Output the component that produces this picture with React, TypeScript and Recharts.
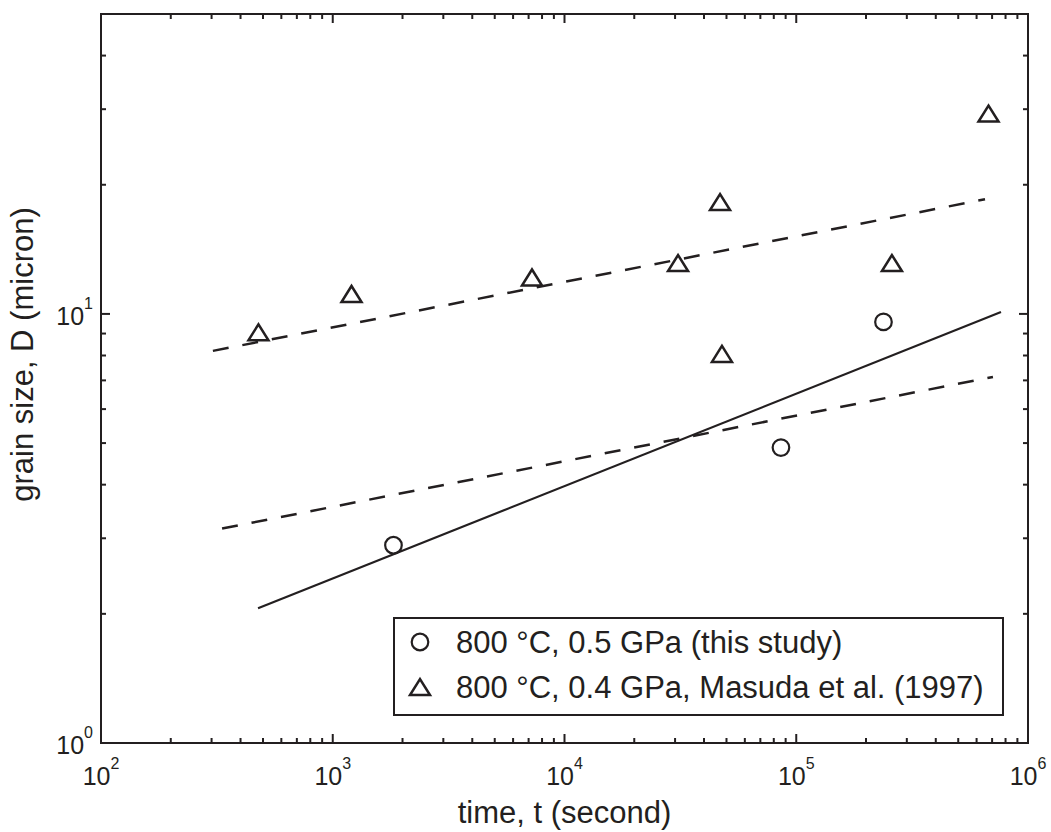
import React from 'react';
import { ComposedChart, XAxis, YAxis, Scatter, Line, Legend } from 'recharts';

const INK = '#231f20';
const FONT = '"Liberation Sans", Arial, Helvetica, sans-serif';

// ---- data ----
const thisStudyT = [1828, 85900, 237900];
const thisStudyD = [2.89, 4.88, 9.58];

const masudaT = [478, 1205, 7240, 30900, 46900, 47800, 258700, 675500];
const masudaD = [9.06, 11.13, 12.16, 13.14, 18.22, 8.07, 13.14, 29.3];

const solidFitT = [476, 764700];
const solidFitD = [2.06, 10.1];
const upperFitT = [304, 652400];
const upperFitD = [8.2, 18.5];
const lowerFitT = [333, 706000];
const lowerFitD = [3.16, 7.13];

const seriesNames = ['800 °C, 0.5 GPa (this study)', '800 °C, 0.4 GPa, Masuda et al. (1997)'];
const xTitle = 'time, t (second)';
const yTitle = 'grain size, D (micron)';

// ---- ticks ----
const xMajorTicks = [1e2, 1e3, 1e4, 1e5, 1e6];
const yMajorTicks = [1, 10];
const minorMultipliers = [2, 3, 4, 5, 6, 7, 8, 9];
const xMinorTicks = [1e2, 1e3, 1e4, 1e5].flatMap((d) => minorMultipliers.map((m) => m * d));
const yMinorTicks = [...minorMultipliers, 20, 30, 40];
const xTicks = [...xMajorTicks, ...xMinorTicks].sort((a, b) => a - b);
const yTicks = [...yMajorTicks, ...yMinorTicks].sort((a, b) => a - b);

const zip = (ts: number[], ds: number[]) => ts.map((t, i) => ({ t, d: ds[i] }));
const thisStudy = zip(thisStudyT, thisStudyD);
const masuda = zip(masudaT, masudaD);
const solidFit = zip(solidFitT, solidFitD);
const upperFit = zip(upperFitT, upperFitD);
const lowerFit = zip(lowerFitT, lowerFitD);

const isMajor = (v: number, majors: number[]) => majors.some((m) => Math.abs(m - v) / m < 1e-9);
const MAJOR_LEN = 9;
const MINOR_LEN = 5;

const PowLabel = ({ x, y, v, anchor }: any) => (
  <text x={x} y={y} textAnchor={anchor} fontFamily={FONT} fontSize={25} fill={INK}>
    10
    <tspan dy={-16} fontSize={16}>
      {Math.round(Math.log10(v))}
    </tspan>
  </text>
);

const BottomTick = (props: any) => {
  const { x, y, payload } = props;
  const v = payload.value;
  const major = isMajor(v, xMajorTicks);
  const len = major ? MAJOR_LEN : MINOR_LEN;
  return (
    <g>
      <line x1={x} x2={x} y1={y} y2={y - len} stroke={INK} strokeWidth={2} />
      {major && <PowLabel x={x} y={y + 42} v={v} anchor="middle" />}
    </g>
  );
};

const TopTick = (props: any) => {
  const { x, y, payload } = props;
  const len = isMajor(payload.value, xMajorTicks) ? MAJOR_LEN : MINOR_LEN;
  return <line x1={x} x2={x} y1={y} y2={y + len} stroke={INK} strokeWidth={2} />;
};

const LeftTick = (props: any) => {
  const { x, y, payload } = props;
  const v = payload.value;
  const major = isMajor(v, yMajorTicks);
  const len = major ? MAJOR_LEN : MINOR_LEN;
  return (
    <g>
      <line x1={x} x2={x + len} y1={y} y2={y} stroke={INK} strokeWidth={2} />
      {major && <PowLabel x={x - 8} y={y + 11} v={v} anchor="end" />}
    </g>
  );
};

const RightTick = (props: any) => {
  const { x, y, payload } = props;
  const len = isMajor(payload.value, yMajorTicks) ? MAJOR_LEN : MINOR_LEN;
  return <line x1={x} x2={x - len} y1={y} y2={y} stroke={INK} strokeWidth={2} />;
};

const XTitle = (props: any) => {
  const vb = props.viewBox || {};
  return (
    <text x={vb.x + vb.width / 2} y={vb.y + 80} textAnchor="middle" fontFamily={FONT} fontSize={31} fill={INK}>
      {xTitle}
    </text>
  );
};

const YTitle = (props: any) => {
  const vb = props.viewBox || {};
  const cx = 33;
  const cy = vb.y + vb.height / 2 - 24;
  return (
    <text x={cx} y={cy} transform={`rotate(-90, ${cx}, ${cy})`} textAnchor="middle" fontFamily={FONT} fontSize={31} fill={INK}>
      {yTitle}
    </text>
  );
};

const TriangleMark = ({ cx, cy }: any) => (
  <polygon
    points={`${cx - 10},${cy + 8} ${cx + 10},${cy + 8} ${cx},${cy - 8}`}
    fill="none"
    stroke={INK}
    strokeWidth={2.5}
    strokeLinejoin="miter"
  />
);

const CircleMark = ({ cx, cy }: any) => (
  <circle cx={cx} cy={cy} r={8.3} fill="none" stroke={INK} strokeWidth={2.2} />
);

const legendRows = [
  { name: seriesNames[0], Mark: CircleMark },
  { name: seriesNames[1], Mark: TriangleMark },
];

const LegendBox = () => (
  <svg width={611} height={99} style={{ display: 'block' }}>
    <rect x={1} y={1} width={609} height={97} fill="#ffffff" stroke={INK} strokeWidth={2} />
    {legendRows.map((r, i) => {
      const cy = 25 + i * 45;
      return (
        <g key={r.name}>
          <r.Mark cx={27} cy={cy} />
          <text x={63} y={cy + 11} fontFamily={FONT} fontSize={31} fill={INK}>
            {r.name}
          </text>
        </g>
      );
    })}
  </svg>
);

const axisLineStyle = { stroke: INK, strokeWidth: 2, strokeLinecap: 'square' as const };

export default function App() {
  return (
    <div style={{ position: 'absolute', left: 0, top: 0, background: '#ffffff' }}>
      <ComposedChart width={1051} height={832} margin={{ top: 13, right: 22, bottom: 0, left: 0 }}>
        <XAxis
          xAxisId="b"
          dataKey="t"
          type="number"
          scale="log"
          domain={[100, 1e6]}
          allowDataOverflow
          ticks={xTicks}
          interval={0}
          tick={<BottomTick />}
          tickLine={false}
          tickSize={0}
          tickMargin={0}
          height={89}
          axisLine={axisLineStyle}
          label={(p: any) => <XTitle {...p} />}
        />
        <XAxis
          xAxisId="t"
          orientation="top"
          dataKey="t"
          type="number"
          scale="log"
          domain={[100, 1e6]}
          allowDataOverflow
          ticks={xTicks}
          interval={0}
          tick={<TopTick />}
          tickLine={false}
          tickSize={0}
          tickMargin={0}
          height={1}
          axisLine={axisLineStyle}
        />
        <YAxis
          yAxisId="l"
          dataKey="d"
          type="number"
          scale="log"
          domain={[1, 50]}
          allowDataOverflow
          ticks={yTicks}
          interval={0}
          tick={<LeftTick />}
          tickLine={false}
          tickSize={0}
          tickMargin={0}
          width={101}
          axisLine={axisLineStyle}
          label={(p: any) => <YTitle {...p} />}
        />
        <YAxis
          yAxisId="r"
          orientation="right"
          dataKey="d"
          type="number"
          scale="log"
          domain={[1, 50]}
          allowDataOverflow
          ticks={yTicks}
          interval={0}
          tick={<RightTick />}
          tickLine={false}
          tickSize={0}
          tickMargin={0}
          width={1}
          axisLine={axisLineStyle}
        />
        <Legend
          content={<LegendBox />}
          layout="vertical"
          verticalAlign="middle"
          align="center"
          wrapperStyle={{ left: 393, top: 617, width: 611, height: 99 }}
        />
        <Line
          xAxisId="b"
          yAxisId="l"
          data={solidFit}
          dataKey="d"
          type="linear"
          stroke={INK}
          strokeWidth={2.2}
          dot={false}
          activeDot={false}
          legendType="none"
          isAnimationActive={false}
        />
        <Line
          xAxisId="t"
          yAxisId="r"
          data={upperFit}
          dataKey="d"
          type="linear"
          stroke={INK}
          strokeWidth={2.5}
          strokeDasharray="16 14"
          dot={false}
          activeDot={false}
          legendType="none"
          isAnimationActive={false}
        />
        <Line
          xAxisId="b"
          yAxisId="l"
          data={lowerFit}
          dataKey="d"
          type="linear"
          stroke={INK}
          strokeWidth={2.5}
          strokeDasharray="16 14"
          dot={false}
          activeDot={false}
          legendType="none"
          isAnimationActive={false}
        />
        <Scatter
          xAxisId="b"
          yAxisId="l"
          name={seriesNames[0]}
          data={thisStudy}
          dataKey="d"
          shape={(p: any) => <CircleMark {...p} />}
          isAnimationActive={false}
        />
        <Scatter
          xAxisId="b"
          yAxisId="l"
          name={seriesNames[1]}
          data={masuda}
          dataKey="d"
          shape={(p: any) => <TriangleMark {...p} />}
          isAnimationActive={false}
        />
      </ComposedChart>
    </div>
  );
}
